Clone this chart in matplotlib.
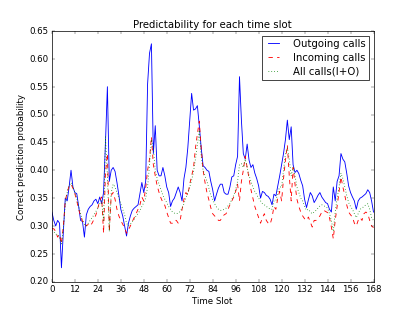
# -*- coding: utf-8 -*-
import matplotlib
matplotlib.use("Agg")
import matplotlib.pyplot as plt

# hourly slots over one week (0..168)
slots = list(range(169))

outgoing = [
    0.325, 0.310, 0.300, 0.310, 0.305, 0.225, 0.290, 0.350, 0.345, 0.370,
    0.400, 0.370, 0.360, 0.358, 0.335, 0.310, 0.308, 0.280, 0.320, 0.330,
    0.335, 0.338, 0.345, 0.348, 0.340, 0.352, 0.340, 0.360, 0.450, 0.550,
    0.380, 0.400, 0.405, 0.398, 0.378, 0.355, 0.330, 0.318, 0.300, 0.282,
    0.305, 0.318, 0.328, 0.332, 0.335, 0.338, 0.358, 0.378, 0.360, 0.380,
    0.555, 0.610, 0.627, 0.430, 0.480, 0.400, 0.390, 0.390, 0.405, 0.390,
    0.370, 0.360, 0.335, 0.345, 0.350, 0.360, 0.370, 0.360, 0.345, 0.385,
    0.405, 0.440, 0.490, 0.538, 0.508, 0.510, 0.516, 0.480, 0.440, 0.408,
    0.405, 0.400, 0.398, 0.380, 0.365, 0.345, 0.357, 0.368, 0.375, 0.375,
    0.360, 0.357, 0.357, 0.370, 0.388, 0.390, 0.410, 0.425, 0.568, 0.490,
    0.430, 0.420, 0.447, 0.418, 0.405, 0.410, 0.395, 0.385, 0.372, 0.350,
    0.362, 0.360, 0.355, 0.353, 0.348, 0.338, 0.357, 0.354, 0.372, 0.390,
    0.410, 0.430, 0.455, 0.490, 0.455, 0.478, 0.410, 0.396, 0.400, 0.394,
    0.382, 0.372, 0.348, 0.333, 0.347, 0.360, 0.354, 0.342, 0.348, 0.355,
    0.360, 0.352, 0.347, 0.342, 0.340, 0.330, 0.325, 0.370, 0.345, 0.380,
    0.390, 0.430, 0.420, 0.415, 0.395, 0.372, 0.360, 0.352, 0.345, 0.330,
    0.345, 0.350, 0.352, 0.355, 0.358, 0.365, 0.360, 0.345, 0.325,
]

incoming = [
    0.295, 0.295, 0.290, 0.280, 0.285, 0.268, 0.300, 0.345, 0.360, 0.372,
    0.375, 0.368, 0.358, 0.345, 0.330, 0.318, 0.308, 0.308, 0.300, 0.303,
    0.300, 0.305, 0.312, 0.320, 0.332, 0.345, 0.352, 0.287, 0.395, 0.430,
    0.290, 0.355, 0.360, 0.348, 0.330, 0.318, 0.310, 0.303, 0.297, 0.287,
    0.293, 0.300, 0.308, 0.315, 0.322, 0.330, 0.338, 0.352, 0.345, 0.368,
    0.400, 0.420, 0.460, 0.410, 0.390, 0.372, 0.360, 0.350, 0.342, 0.337,
    0.325, 0.315, 0.305, 0.305, 0.310, 0.310, 0.305, 0.310, 0.330, 0.348,
    0.360, 0.355, 0.375, 0.390, 0.405, 0.440, 0.465, 0.488, 0.440, 0.400,
    0.378, 0.360, 0.347, 0.333, 0.322, 0.318, 0.315, 0.310, 0.310, 0.316,
    0.320, 0.322, 0.330, 0.338, 0.345, 0.352, 0.362, 0.375, 0.345, 0.380,
    0.400, 0.425, 0.405, 0.385, 0.365, 0.350, 0.335, 0.325, 0.315, 0.305,
    0.315, 0.322, 0.310, 0.305, 0.303, 0.315, 0.335, 0.330, 0.350, 0.362,
    0.345, 0.385, 0.418, 0.445, 0.390, 0.345, 0.405, 0.375, 0.348, 0.335,
    0.325, 0.318, 0.313, 0.310, 0.316, 0.307, 0.298, 0.310, 0.310, 0.314,
    0.318, 0.325, 0.328, 0.326, 0.324, 0.315, 0.298, 0.277, 0.310, 0.335,
    0.362, 0.388, 0.370, 0.355, 0.338, 0.325, 0.320, 0.316, 0.305, 0.300,
    0.310, 0.315, 0.310, 0.322, 0.325, 0.322, 0.310, 0.300, 0.297,
]

all_calls = [
    0.292, 0.290, 0.285, 0.285, 0.280, 0.268, 0.295, 0.340, 0.360, 0.372,
    0.378, 0.370, 0.360, 0.350, 0.335, 0.322, 0.310, 0.303, 0.300, 0.305,
    0.310, 0.315, 0.320, 0.326, 0.332, 0.340, 0.345, 0.310, 0.460, 0.390,
    0.290, 0.360, 0.375, 0.370, 0.360, 0.350, 0.340, 0.330, 0.320, 0.305,
    0.300, 0.303, 0.308, 0.312, 0.318, 0.322, 0.328, 0.335, 0.342, 0.350,
    0.370, 0.410, 0.455, 0.440, 0.400, 0.385, 0.375, 0.365, 0.355, 0.348,
    0.342, 0.335, 0.330, 0.325, 0.323, 0.322, 0.323, 0.326, 0.332, 0.340,
    0.350, 0.360, 0.370, 0.382, 0.398, 0.420, 0.445, 0.472, 0.425, 0.400,
    0.390, 0.380, 0.368, 0.355, 0.347, 0.340, 0.334, 0.330, 0.328, 0.328,
    0.330, 0.332, 0.336, 0.340, 0.348, 0.355, 0.365, 0.380, 0.410, 0.412,
    0.405, 0.420, 0.405, 0.390, 0.380, 0.370, 0.362, 0.356, 0.350, 0.345,
    0.340, 0.338, 0.335, 0.333, 0.330, 0.330, 0.345, 0.345, 0.360, 0.370,
    0.370, 0.400, 0.430, 0.440, 0.420, 0.390, 0.405, 0.390, 0.370, 0.360,
    0.350, 0.345, 0.335, 0.328, 0.330, 0.325, 0.322, 0.325, 0.328, 0.332,
    0.336, 0.338, 0.336, 0.335, 0.332, 0.322, 0.310, 0.290, 0.325, 0.350,
    0.370, 0.395, 0.385, 0.370, 0.355, 0.342, 0.335, 0.330, 0.322, 0.315,
    0.322, 0.330, 0.332, 0.335, 0.338, 0.340, 0.330, 0.315, 0.310,
]

xticks = list(range(0, 169, 12))


def plot():
    plt.style.use("classic")
    fig = plt.figure(figsize=(8, 6.04), dpi=51.875)
    ax = fig.add_subplot(111)

    ax.plot(slots, outgoing, "b-", lw=1.2, label="Outgoing calls")
    ax.plot(slots, incoming, "r--", lw=1.2, label="Incoming calls")
    ax.plot(slots, all_calls, "g:", lw=1.2, label="All calls(I+O)")

    ax.set_xlim(0, 168)
    ax.set_ylim(0.20, 0.65)
    ax.set_xticks(xticks)
    ax.set_yticks([0.20 + 0.05 * i for i in range(10)])
    ax.yaxis.set_major_formatter(matplotlib.ticker.FormatStrFormatter("%.2f"))

    ax.set_title("Predictability for each time slot", fontsize=14)
    ax.set_xlabel("Time Slot")
    ax.set_ylabel("Correct prediction probability")
    ax.legend(loc="upper right", fontsize=14, borderpad=0.3,
              labelspacing=0.4, borderaxespad=0.45, handletextpad=1.1,
              handlelength=1.7)

    fig.savefig("out.png", dpi=51.875, facecolor="white")


plot()
